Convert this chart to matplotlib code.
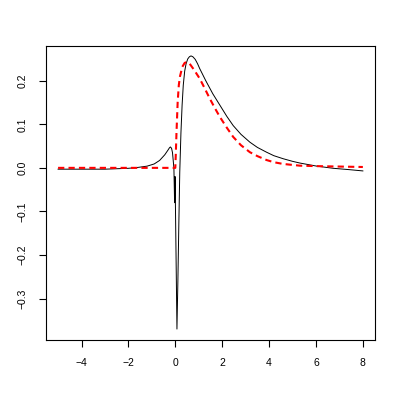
import matplotlib
matplotlib.use("Agg")
import matplotlib.pyplot as plt

# black curve
x_black = [-5.0, -4.0, -3.0, -2.0, -1.6, -1.2, -0.9, -0.67, -0.45, -0.31, -0.25, -0.21,
           -0.16, -0.12, -0.06, -0.03, -0.01, 0.02, 0.07, 0.11, 0.15, 0.19, 0.24, 0.29,
           0.34, 0.4, 0.46, 0.53, 0.6, 0.67, 0.75, 0.85, 0.95, 1.04, 1.3, 1.6, 1.9, 2.2,
           2.47, 2.8, 3.18, 3.5, 3.89, 4.2, 4.6, 5.0, 5.32, 6.03, 6.74, 7.4, 8.0]
y_black = [-0.003, -0.003, -0.003, -0.001, 0.001, 0.004, 0.009, 0.017, 0.030, 0.041, 0.046, 0.048,
           0.045, 0.035, 0.0, -0.08, -0.02, -0.15, -0.37, -0.26, -0.13, -0.01, 0.08, 0.144,
           0.19, 0.222, 0.239, 0.25, 0.255, 0.257, 0.255, 0.249, 0.239, 0.228, 0.2, 0.17, 0.144, 0.118,
           0.097, 0.077, 0.059, 0.047, 0.036, 0.028, 0.021, 0.015, 0.011, 0.004, -0.001, -0.004, -0.007]

# red dashed curve
x_red = [-5.0, -0.5, 0.0, 0.02, 0.05, 0.1, 0.15, 0.2, 0.3, 0.4, 0.5, 0.6, 0.8,
         1.04, 1.25, 1.47, 1.7, 1.9, 2.2, 2.47, 2.8, 3.18, 3.5, 3.89, 4.2, 4.6,
         5.32, 6.03, 7.0, 8.0]
y_red = [0.0, 0.0, 0.0, 0.03, 0.08, 0.15, 0.19, 0.21, 0.232, 0.241, 0.243, 0.24, 0.225,
         0.205, 0.183, 0.159, 0.136, 0.117, 0.092, 0.071, 0.052, 0.036, 0.027, 0.018, 0.013, 0.009,
         0.005, 0.004, 0.003, 0.002]

plt.rcParams['font.family'] = ['Liberation Sans', 'DejaVu Sans']
fig = plt.figure(figsize=(3.99, 3.99), dpi=100)
ax = fig.add_axes([0.115, 0.148, 0.825, 0.737])

ax.plot(x_black, y_black, color='black', lw=0.7)
ax.plot(x_red, y_red, color='red', lw=1.5, linestyle=(0, (3, 2)))

ax.set_xlim(-5.52, 8.52)
ax.set_ylim(-0.395, 0.28)
ax.set_xticks([-4, -2, 0, 2, 4, 6, 8])
ax.set_yticks([-0.3, -0.2, -0.1, 0.0, 0.1, 0.2])
ax.set_xticklabels(['\u22124', '\u22122', '0', '2', '4', '6', '8'])
ax.set_yticklabels(['\u22120.3', '\u22120.2', '\u22120.1', '0.0', '0.1', '0.2'],
                   rotation=90, va='center')
ax.tick_params(labelsize=7.5, length=5, width=0.8, pad=8)
for s in ax.spines.values():
    s.set_linewidth(0.8)

plt.savefig("out.png", dpi=100)
